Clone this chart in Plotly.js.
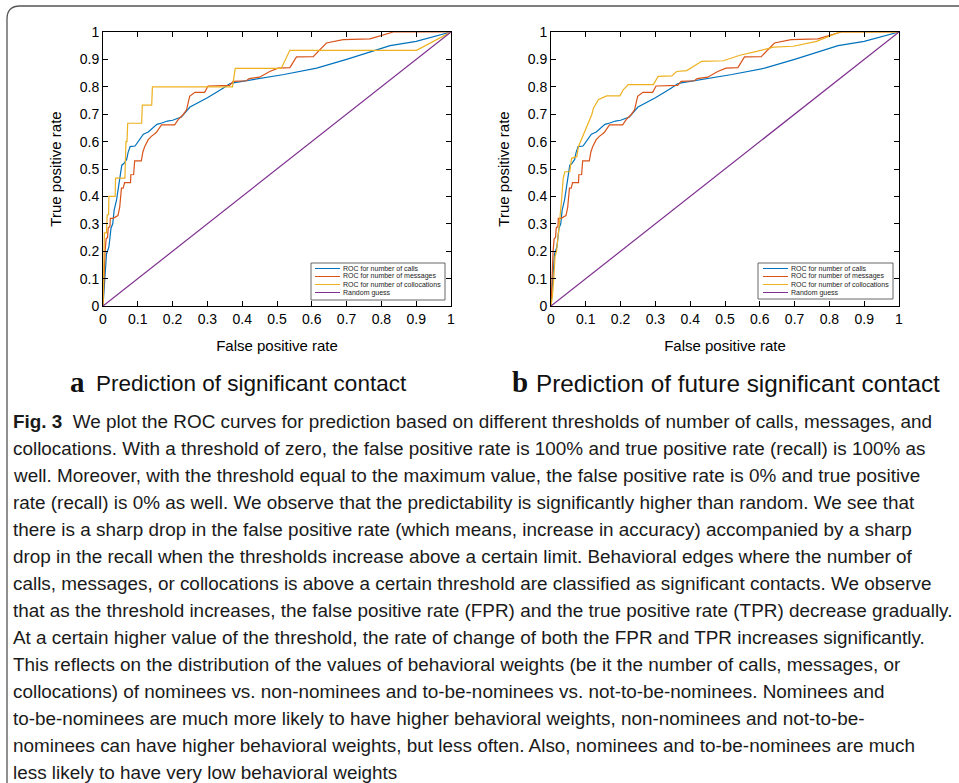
<!DOCTYPE html>
<html>
<head>
<meta charset="utf-8">
<script src="https://cdn.plot.ly/plotly-3.0.1.min.js"></script>
<style>
html,body{margin:0;padding:0;background:#fff;}
#chart{width:959px;height:783px;}
</style>
</head>
<body>
<div id="chart"></div>
<script>
// ---------- data ----------
const callsFpr = [0,0.005,0.01,0.017,0.02,0.023,0.028,0.032,0.039,0.043,0.049,0.052,0.054,0.06,0.068,0.072,0.078,0.092,0.1,0.116,0.13,0.14,0.155,0.169,0.185,0.2,0.225,0.25,0.3,0.345,0.364,0.374,0.46,0.52,0.614,0.7,0.825,0.9,1];
const callsTpr = [0,0.12,0.19,0.216,0.25,0.284,0.3,0.35,0.387,0.42,0.46,0.48,0.514,0.52,0.535,0.56,0.582,0.584,0.6,0.627,0.635,0.645,0.663,0.668,0.675,0.678,0.69,0.726,0.76,0.795,0.811,0.814,0.832,0.845,0.868,0.9,0.95,0.966,1];

const messagesFpr = [0,0.003,0.006,0.009,0.013,0.015,0.02,0.021,0.028,0.029,0.043,0.048,0.053,0.058,0.062,0.079,0.08,0.088,0.091,0.11,0.115,0.12,0.13,0.139,0.153,0.168,0.206,0.216,0.23,0.24,0.249,0.264,0.292,0.302,0.364,0.374,0.412,0.42,0.45,0.479,0.503,0.537,0.556,0.604,0.642,0.69,0.767,0.834,1];
const messagesTpr = [0,0.15,0.2,0.245,0.25,0.285,0.29,0.32,0.32,0.32,0.33,0.36,0.43,0.43,0.45,0.45,0.479,0.48,0.53,0.53,0.564,0.582,0.607,0.619,0.633,0.661,0.661,0.68,0.698,0.716,0.765,0.78,0.78,0.803,0.805,0.82,0.822,0.83,0.835,0.856,0.868,0.87,0.909,0.91,0.96,0.972,0.975,1,1];

const collocAFpr = [0,0.003,0.004,0.01,0.012,0.016,0.017,0.035,0.036,0.063,0.066,0.069,0.071,0.111,0.113,0.14,0.142,0.372,0.38,0.512,0.537,0.901,1];
const collocATpr = [0,0.2,0.267,0.267,0.333,0.333,0.4,0.4,0.467,0.467,0.6,0.6,0.667,0.667,0.733,0.733,0.8,0.8,0.867,0.867,0.933,0.933,1];

const collocBFpr = [0,0.004,0.008,0.0115,0.016,0.021,0.026,0.031,0.035,0.04,0.054,0.059,0.074,0.079,0.093,0.107,0.117,0.122,0.136,0.16,0.198,0.208,0.222,0.294,0.308,0.347,0.361,0.39,0.433,0.495,0.543,0.591,0.639,0.696,0.763,0.83,1];
const collocBTpr = [0,0.034,0.1,0.18,0.2,0.253,0.326,0.398,0.466,0.49,0.49,0.539,0.545,0.582,0.625,0.667,0.698,0.722,0.753,0.767,0.767,0.79,0.808,0.808,0.838,0.84,0.856,0.859,0.893,0.895,0.915,0.929,0.945,0.948,0.966,1,1];

const randomFpr = [0,1];
const randomTpr = [0,1];

const seriesNames = ["ROC for number of calls","ROC for number of messages","ROC for number of collocations","Random guess"];
const seriesColors = ["#0072BD","#D95319","#EDB120","#7E2F8E"];
const xTitle = "False positive rate";
const yTitle = "True positive rate";
const panelLetters = ["a","b"];
const panelTitles = ["Prediction of significant contact","Prediction of future significant contact"];
const captionLead = "Fig. 3";
const captionLines = [
"We plot the ROC curves for prediction based on different thresholds of number of calls, messages, and",
"collocations. With a threshold of zero, the false positive rate is 100% and true positive rate (recall) is 100% as",
"well. Moreover, with the threshold equal to the maximum value, the false positive rate is 0% and true positive",
"rate (recall) is 0% as well. We observe that the predictability is significantly higher than random. We see that",
"there is a sharp drop in the false positive rate (which means, increase in accuracy) accompanied by a sharp",
"drop in the recall when the thresholds increase above a certain limit. Behavioral edges where the number of",
"calls, messages, or collocations is above a certain threshold are classified as significant contacts. We observe",
"that as the threshold increases, the false positive rate (FPR) and the true positive rate (TPR) decrease gradually.",
"At a certain higher value of the threshold, the rate of change of both the FPR and TPR increases significantly.",
"This reflects on the distribution of the values of behavioral weights (be it the number of calls, messages, or",
"collocations) of nominees vs. non-nominees and to-be-nominees vs. not-to-be-nominees. Nominees and",
"to-be-nominees are much more likely to have higher behavioral weights, non-nominees and not-to-be-",
"nominees can have higher behavioral weights, but less often. Also, nominees and to-be-nominees are much",
"less likely to have very low behavioral weights"
];

// ---------- layout helpers ----------
const W = 959, H = 783;
const px = x => x / W;
const py = y => 1 - y / H;
const SANS = "Liberation Sans, Arial, Helvetica, sans-serif";
const CAP = "Liberation Sans";

// fit caption font size so that the widest reference line spans its width
const ctx = document.createElement("canvas").getContext("2d");
ctx.font = "100px '" + CAP + "'";
const w8 = ctx.measureText(captionLines[7]).width;      // "that as ... gradually." spans x 13..953
let capSize = 100 * 940 / w8;
ctx.font = "bold 100px '" + CAP + "'";
const wLead = ctx.measureText(captionLead + "  ").width;
ctx.font = "100px '" + CAP + "'";
const w1 = wLead + ctx.measureText(captionLines[0]).width; // line 1 spans x 13..955
capSize = Math.min(capSize, 100 * 942 / w1);
capSize = Math.round(capSize * 10) / 10;

const panels = [
  {xa:"x", ya:"y", left:103, right:451, colloc:[collocAFpr, collocATpr]},
  {xa:"x2", ya:"y2", left:551, right:899, colloc:[collocBFpr, collocBTpr]}
];
const plotTop = 32, plotBottom = 306;

const traces = [];
panels.forEach((p, i) => {
  const sets = [[callsFpr, callsTpr],[messagesFpr, messagesTpr], p.colloc, [randomFpr, randomTpr]];
  sets.forEach((s, k) => {
    traces.push({
      x: s[0], y: s[1], xaxis: p.xa, yaxis: p.ya, type: "scatter", mode: "lines",
      name: seriesNames[k], showlegend: false,
      line: {color: seriesColors[k], width: 1.2}
    });
  });
});

function axisCommon() {
  return {
    range: [0, 1], dtick: 0.1, tick0: 0, showgrid: false, zeroline: false,
    showline: true, linecolor: "#000", linewidth: 1, mirror: "ticks",
    ticks: "inside", ticklen: 5, tickcolor: "#000", tickwidth: 1,
    tickfont: {family: SANS, size: 14, color: "#000"}, automargin: false, fixedrange: true
  };
}

const layout = {
  width: W, height: H, margin: {l: 0, r: 0, t: 0, b: 0},
  paper_bgcolor: "#fff", plot_bgcolor: "#fff", showlegend: false,
  shapes: [], annotations: []
};

panels.forEach((p, i) => {
  const sfx = i === 0 ? "" : "2";
  const xa = axisCommon();
  xa.domain = [px(p.left), px(p.right)];
  xa.anchor = "y" + sfx;
  xa.title = {text: xTitle, font: {family: SANS, size: 15, color: "#000"}, standoff: 14};
  const ya = axisCommon();
  ya.domain = [py(plotBottom), py(plotTop)];
  ya.anchor = "x" + sfx;
  ya.title = {text: yTitle, font: {family: SANS, size: 15, color: "#000"}, standoff: 14};
  layout["xaxis" + sfx] = xa;
  layout["yaxis" + sfx] = ya;

  // legend box (drawn manually for compact MATLAB-like rows)
  const lg = i === 0 ? {l: 311, r: 445, t: 263, b: 300, s0: 315, s1: 340, tx: 342}
                     : {l: 758, r: 893, t: 263, b: 299, s0: 763, s1: 788, tx: 790};
  layout.shapes.push({type: "rect", xref: "paper", yref: "paper",
    x0: px(lg.l), x1: px(lg.r), y0: py(lg.b), y1: py(lg.t),
    line: {color: "#666", width: 1}, fillcolor: "#fff", layer: "above"});
  seriesNames.forEach((nm, k) => {
    const ry = lg.t + 5.5 + k * 8;
    layout.shapes.push({type: "line", xref: "paper", yref: "paper",
      x0: px(lg.s0), x1: px(lg.s1), y0: py(ry), y1: py(ry),
      line: {color: seriesColors[k], width: 1}, layer: "above"});
    layout.annotations.push({xref: "paper", yref: "paper", x: px(lg.tx), y: py(ry),
      xanchor: "left", yanchor: "middle", showarrow: false, text: nm,
      font: {family: SANS, size: 7, color: "#222"}, borderpad: 0});
  });

  // panel caption
  const cap = i === 0 ? {letter: 77, text: 95, size: 22.5} : {letter: 520, text: 535, size: 24.3};
  layout.annotations.push({xref: "paper", yref: "paper", x: px(cap.letter), y: py(382),
    xanchor: "center", yanchor: "middle", showarrow: false, text: "<b>" + panelLetters[i] + "</b>",
    font: {family: "Liberation Serif, Times New Roman, serif", size: 29, color: "#111"}, borderpad: 0});
  layout.annotations.push({xref: "paper", yref: "paper", x: px(cap.text), y: py(383),
    xanchor: "left", yanchor: "middle", showarrow: false, text: panelTitles[i],
    font: {family: SANS, size: cap.size, color: "#111"}, borderpad: 0});
});

// figure caption lines
captionLines.forEach((t, j) => {
  const txt = j === 0 ? "<b>" + captionLead + "</b>&nbsp; " + t : t;
  layout.annotations.push({xref: "paper", yref: "paper", x: px(12), y: py(421 + 27 * j),
    xanchor: "left", yanchor: "middle", showarrow: false, text: txt, align: "left",
    font: {family: CAP + ", Arial, sans-serif", size: capSize, color: "#1a1a1a"}, borderpad: 0});
});

// outer frame with rounded top-left corner
layout.shapes.push({type: "path", xref: "paper", yref: "paper",
  path: `M ${px(7)} ${py(783)} L ${px(7)} ${py(19)} Q ${px(7)} ${py(6)} ${px(20)} ${py(6)} L ${px(959)} ${py(6)}`,
  line: {color: "#555", width: 1.3}, layer: "above"});

Plotly.newPlot("chart", traces, layout, {displayModeBar: false, staticPlot: true});
</script>
</body>
</html>
